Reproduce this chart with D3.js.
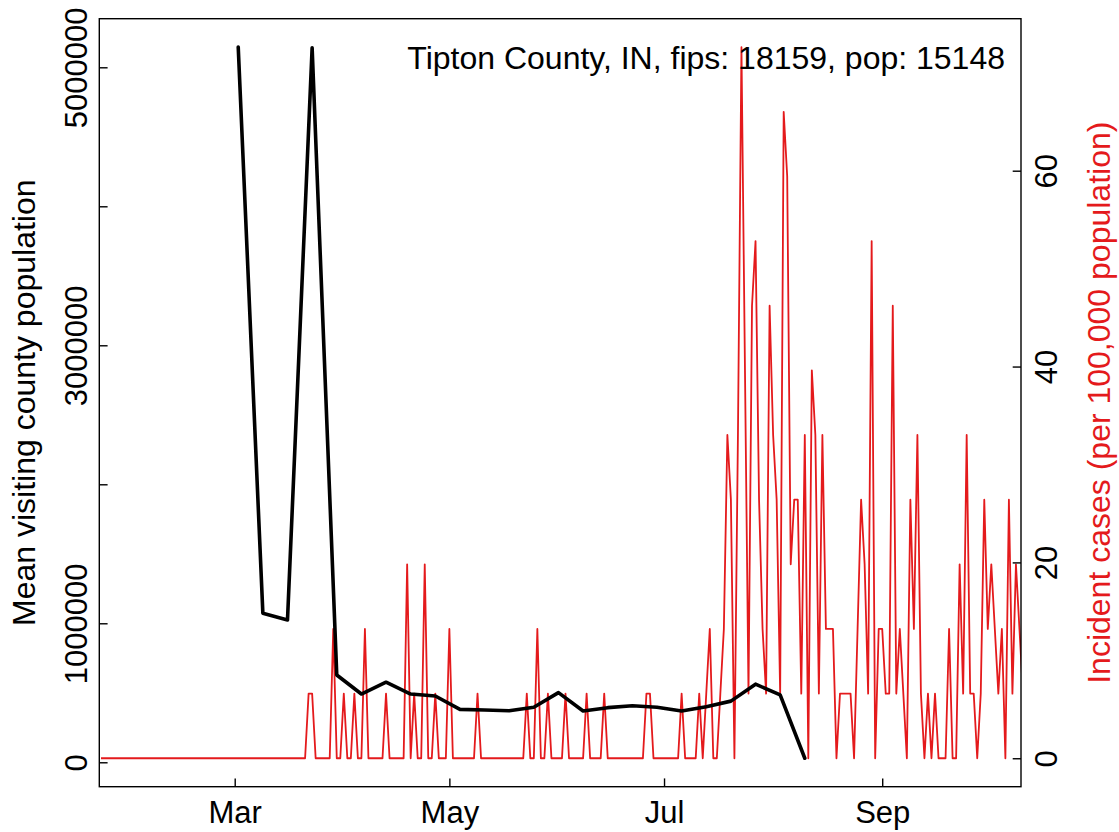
<!DOCTYPE html>
<html>
<head>
<meta charset="utf-8">
<script src="https://cdn.jsdelivr.net/npm/d3@7"></script>
<style>
  body { margin: 0; background: #fff; }
  svg { display: block; }
  text { font-family: "Liberation Sans", Arial, sans-serif; }
</style>
</head>
<body>
<div id="chart"></div>
<script>
// ---- data ----
var title = "Tipton County, IN, fips: 18159, pop: 15148";
var POP = 15148;

// weekly mean visiting county population (Mondays)
var visitDates = ["2020-03-02", "2020-03-09", "2020-03-16", "2020-03-23", "2020-03-30",
    "2020-04-06", "2020-04-13", "2020-04-20", "2020-04-27", "2020-05-04", "2020-05-11",
    "2020-05-18", "2020-05-25", "2020-06-01", "2020-06-08", "2020-06-15", "2020-06-22",
    "2020-06-29", "2020-07-06", "2020-07-13", "2020-07-20", "2020-07-27", "2020-08-03",
    "2020-08-10"];
var visitPop = [5145000, 1072000, 1024000, 5140000, 628000,
    491000, 576000, 491000, 477000, 381000, 376000,
    371000, 396000, 501000, 369000, 393000, 407000,
    396000, 369000, 400000, 440000, 562000, 485000,
    29000];

// daily new cases, first day 2020-01-23
var caseStart = "2020-01-23";
var dailyCases = [
    0, 0, 0, 0, 0, 0, 0, 0, 0, 0,
    0, 0, 0, 0, 0, 0, 0, 0, 0, 0,
    0, 0, 0, 0, 0, 0, 0, 0, 0, 0,
    0, 0, 0, 0, 0, 0, 0, 0, 0, 0,
    0, 0, 0, 0, 0, 0, 0, 0, 0, 0,
    0, 0, 0, 0, 0, 0, 0, 0, 0, 1,
    1, 0, 0, 0, 0, 0, 2, 0, 0, 1,
    0, 0, 1, 0, 0, 2, 0, 0, 0, 0,
    0, 1, 0, 0, 0, 0, 0, 3, 0, 1,
    0, 0, 3, 0, 0, 1, 0, 0, 0, 2,
    0, 0, 0, 0, 0, 0, 0, 1, 0, 0,
    0, 0, 0, 0, 0, 0, 0, 0, 0, 0,
    0, 1, 0, 0, 2, 0, 0, 1, 0, 0,
    0, 0, 1, 0, 0, 0, 0, 0, 1, 0,
    0, 0, 0, 1, 0, 0, 0, 0, 0, 0,
    0, 0, 0, 0, 0, 1, 1, 0, 0, 0,
    0, 0, 0, 0, 0, 1, 0, 0, 0, 0,
    1, 0, 1, 2, 0, 0, 1, 2, 5, 4,
    0, 5, 11, 6, 1, 7, 8, 4, 2, 1,
    7, 5, 4, 1, 10, 9, 3, 4, 4, 1,
    5, 0, 6, 5, 1, 5, 2, 2, 2, 0,
    1, 1, 1, 1, 0, 2, 4, 3, 1, 8,
    0, 2, 2, 1, 1, 7, 1, 2, 1, 0,
    4, 2, 5, 1, 0, 1, 0, 1, 0, 0,
    0, 2, 0, 0, 3, 1, 5, 1, 1, 0,
    1, 4, 2, 3, 2, 1, 2, 0, 4, 1,
    3, 2, 1
];

var xDomain = ["2020-01-22 12:30", "2020-10-10 10:30"];
var monthTicks = ["2020-03-01", "2020-05-01", "2020-07-01", "2020-09-01"];
var leftTicks = [0, 1000000, 2000000, 3000000, 4000000, 5000000];
var leftLabelled = [0, 1000000, 3000000, 5000000];
var rightTicks = [0, 20, 40, 60];

// ---- layout ----
var W = 1119, H = 832;
var plot = { left: 99.3, right: 1021, top: 18.7, bottom: 786.7 };
var tickFont = 31;
var labelFont = 32;
var red = "#e41a1c";
var tick = 8.3;

var parseDay = d3.timeParse("%Y-%m-%d");
var parseTime = d3.timeParse("%Y-%m-%d %H:%M");

var svg = d3.select("#chart").append("svg")
    .attr("width", W)
    .attr("height", H);

var x = d3.scaleTime()
    .domain(xDomain.map(parseTime))
    .range([plot.left, plot.right]);

// R-style 4% padding of the data range
function pad4(ext) {
    var r = ext[1] - ext[0];
    return [ext[0] - 0.04 * r, ext[1] + 0.04 * r];
}

var start = parseDay(caseStart);
var caseSeries = dailyCases.map(function (c, i) {
    return { date: d3.timeDay.offset(start, i), rate: c * 100000 / POP };
});
var visitSeries = visitDates.map(function (d, i) {
    return { date: parseDay(d), value: visitPop[i] };
});

var yL = d3.scaleLinear()
    .domain(pad4(d3.extent(visitPop)))
    .range([plot.bottom, plot.top]);
var yR = d3.scaleLinear()
    .domain(pad4(d3.extent(caseSeries, function (d) { return d.rate; })))
    .range([plot.bottom, plot.top]);

svg.append("clipPath").attr("id", "clip")
    .append("rect")
    .attr("x", plot.left).attr("y", plot.top)
    .attr("width", plot.right - plot.left)
    .attr("height", plot.bottom - plot.top);

// incident cases (red)
svg.append("path")
    .datum(caseSeries)
    .attr("clip-path", "url(#clip)")
    .attr("fill", "none")
    .attr("stroke", red)
    .attr("stroke-width", 1.8)
    .attr("stroke-linejoin", "round")
    .attr("d", d3.line()
        .x(function (d) { return x(d.date); })
        .y(function (d) { return yR(d.rate); }));

// mean visiting population (black)
svg.append("path")
    .datum(visitSeries)
    .attr("clip-path", "url(#clip)")
    .attr("fill", "none")
    .attr("stroke", "#000")
    .attr("stroke-width", 3.6)
    .attr("stroke-linejoin", "round")
    .attr("stroke-linecap", "round")
    .attr("d", d3.line()
        .x(function (d) { return x(d.date); })
        .y(function (d) { return yL(d.value); }));

// box
svg.append("rect")
    .attr("x", plot.left).attr("y", plot.top)
    .attr("width", plot.right - plot.left)
    .attr("height", plot.bottom - plot.top)
    .attr("fill", "none")
    .attr("stroke", "#000")
    .attr("stroke-width", 1.4);

// x axis
var gx = svg.append("g")
    .attr("transform", "translate(0," + plot.bottom + ")")
    .call(d3.axisBottom(x)
        .tickValues(monthTicks.map(parseDay))
        .tickFormat(d3.timeFormat("%b"))
        .tickSizeInner(-tick).tickSizeOuter(0));
gx.select(".domain").remove();
gx.selectAll("line").attr("stroke-width", 1.4);
gx.selectAll("text")
    .attr("dy", null)
    .attr("y", 36.6)
    .attr("fill", "#000")
    .attr("font-size", tickFont)
    .attr("font-family", null);

// left axis
var gl = svg.append("g")
    .attr("transform", "translate(" + plot.left + ",0)")
    .call(d3.axisLeft(yL)
        .tickValues(leftTicks)
        .tickFormat(function (d) { return leftLabelled.indexOf(d) >= 0 ? d3.format("d")(d) : ""; })
        .tickSizeInner(-tick).tickSizeOuter(0));
gl.select(".domain").remove();
gl.selectAll("line").attr("stroke-width", 1.4);
gl.selectAll("text")
    .attr("x", null).attr("dy", null)
    .attr("transform", "translate(-12.6,0) rotate(-90)")
    .attr("text-anchor", "middle")
    .attr("fill", "#000")
    .attr("font-size", tickFont)
    .attr("font-family", null);

// right axis
var gr = svg.append("g")
    .attr("transform", "translate(" + plot.right + ",0)")
    .call(d3.axisRight(yR)
        .tickValues(rightTicks)
        .tickFormat(d3.format("d"))
        .tickSizeInner(-tick).tickSizeOuter(0));
gr.select(".domain").remove();
gr.selectAll("line").attr("stroke-width", 1.4);
gr.selectAll("text")
    .attr("x", null).attr("dy", null)
    .attr("transform", "translate(35.7,0) rotate(-90)")
    .attr("text-anchor", "middle")
    .attr("fill", "#000")
    .attr("font-size", tickFont)
    .attr("font-family", null);

// axis titles
var midY = (plot.top + plot.bottom) / 2;
svg.append("text")
    .attr("transform", "translate(35," + midY + ") rotate(-90)")
    .attr("text-anchor", "middle")
    .attr("font-size", labelFont)
    .attr("fill", "#000")
    .text("Mean visiting county population");
svg.append("text")
    .attr("transform", "translate(1110," + midY + ") rotate(-90)")
    .attr("text-anchor", "middle")
    .attr("font-size", labelFont)
    .attr("fill", red)
    .text("Incident cases (per 100,000 population)");

// title in the top-right corner
svg.append("text")
    .attr("x", 1005)
    .attr("y", 69)
    .attr("text-anchor", "end")
    .attr("font-size", labelFont)
    .attr("fill", "#000")
    .text(title);
</script>
</body>
</html>
